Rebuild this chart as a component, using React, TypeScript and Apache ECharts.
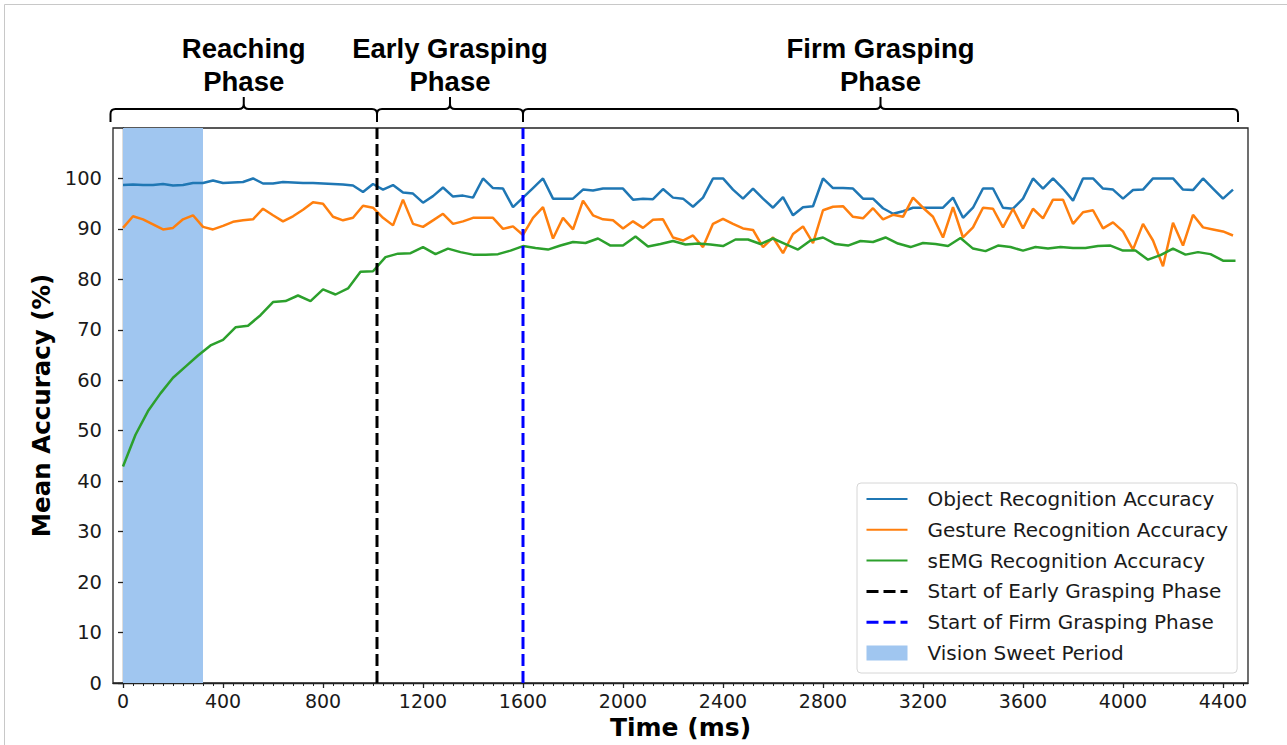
import React, { useEffect, useRef } from "react";
import * as echarts from "echarts";

// ---- data ----
const objectStepMs = 40;
const gestureStepMs = 40;
const semgStepMs = 50;

const objectAcc = [
  98.7, 98.8, 98.7, 98.7, 98.9, 98.6, 98.7, 99.1, 99.1, 99.6,
  99.1, 99.2, 99.3, 100.0, 99.0, 99.0, 99.3, 99.2, 99.1, 99.1,
  99.0, 98.9, 98.8, 98.6, 97.3, 98.9, 97.8, 98.7, 97.2, 97.0,
  95.2, 96.5, 98.2, 96.4, 96.6, 96.2, 100.0, 98.1, 98.0, 94.3,
  96.2, 98.1, 100.0, 96.0, 96.0, 96.0, 97.8, 97.6, 98.0, 98.0,
  98.0, 95.8, 96.0, 95.9, 97.9, 96.2, 96.0, 94.4, 96.2, 100.0,
  100.0, 97.8, 96.0, 98.0, 96.0, 94.2, 96.3, 92.7, 94.3, 94.5,
  100.0, 98.1, 98.1, 98.0, 96.0, 96.0, 94.1, 93.0, 93.5, 94.2,
  94.2, 94.2, 94.2, 96.2, 92.2, 94.2, 98.0, 98.0, 94.2, 94.0,
  96.0, 100.0, 98.0, 100.0, 98.0, 95.6, 100.0, 100.0, 98.0, 97.8,
  96.0, 97.7, 97.8, 100.0, 100.0, 100.0, 97.8, 97.7, 100.0, 98.0,
  96.0, 97.8,
];

const gestureAcc = [
  90.2, 92.5, 91.9, 90.9, 89.9, 90.2, 91.9, 92.7, 90.4, 89.9,
  90.6, 91.4, 91.7, 91.9, 94.0, 92.7, 91.5, 92.5, 93.8, 95.3,
  95.0, 92.4, 91.7, 92.2, 94.6, 94.2, 92.2, 90.7, 95.8, 91.0,
  90.4, 91.7, 93.0, 91.0, 91.5, 92.2, 92.2, 92.2, 90.0, 90.5,
  88.8, 92.2, 94.3, 88.1, 92.2, 89.9, 95.6, 92.7, 91.9, 91.7,
  90.1, 91.5, 90.2, 91.8, 91.9, 88.3, 87.7, 88.7, 86.4, 91.0,
  92.0, 91.0, 90.1, 89.8, 86.4, 88.3, 85.2, 89.0, 90.5, 87.2,
  93.7, 94.4, 94.5, 92.4, 92.1, 94.1, 91.9, 92.8, 92.4, 96.2,
  94.2, 92.4, 88.3, 94.3, 88.3, 90.3, 94.2, 94.0, 90.3, 94.0,
  90.1, 94.0, 92.1, 95.8, 95.8, 91.0, 93.3, 93.7, 90.1, 91.3,
  89.5, 85.9, 91.0, 87.7, 82.6, 91.2, 86.7, 92.8, 90.3, 89.9,
  89.5, 88.7,
];

const semgAcc = [
  42.9, 49.2, 53.9, 57.4, 60.5, 62.7, 64.9, 66.9, 68.0, 70.5,
  70.8, 72.9, 75.5, 75.7, 76.8, 75.7, 78.0, 77.0, 78.2, 81.5,
  81.6, 84.4, 85.1, 85.2, 86.4, 85.0, 86.1, 85.4, 84.9, 84.9,
  85.0, 85.7, 86.6, 86.2, 85.9, 86.7, 87.4, 87.2, 88.1, 86.7,
  86.7, 88.5, 86.5, 87.0, 87.6, 86.9, 87.1, 86.9, 86.6, 87.9,
  87.9, 87.0, 88.1, 87.0, 85.9, 87.7, 88.3, 87.0, 86.7, 87.6,
  87.4, 88.3, 87.1, 86.4, 87.2, 87.0, 86.6, 88.2, 86.1, 85.6,
  86.7, 86.4, 85.7, 86.4, 86.1, 86.4, 86.2, 86.2, 86.6, 86.7,
  85.7, 85.7, 83.9, 84.8, 86.1, 84.9, 85.4, 85.0, 83.7, 83.7,
];

const earlyGraspStart = 1016;
const firmGraspStart = 1600;
const sweetPeriod = [0, 320];

const xTickValues = [0, 400, 800, 1200, 1600, 2000, 2400, 2800, 3200, 3600, 4000, 4400];
const yTickValues = [0, 10, 20, 30, 40, 50, 60, 70, 80, 90, 100];
const minorTickStep = 40;

const seriesNames = [
  "Object Recognition Accuracy",
  "Gesture Recognition Accuracy",
  "sEMG Recognition Accuracy",
  "Start of Early Grasping Phase",
  "Start of Firm Grasping Phase",
  "Vision Sweet Period",
];

const phaseLabels = ["Reaching\nPhase", "Early Grasping\nPhase", "Firm Grasping\nPhase"];
const phaseBounds = [
  [-50, earlyGraspStart],
  [earlyGraspStart, firmGraspStart],
  [firmGraspStart, 4460],
];

// ---- layout ----
const X_MIN = -40;
const X_MAX = 4500;
const Y_MIN = 0;
const Y_MAX = 110;

const TICK_FONT = "DejaVu Sans";

echarts.graphic.registerShape(
  "brace",
  echarts.graphic.extendShape({
    shape: { x1: 0, x2: 100, y: 0, h: 13, tip: 12, r: 5 },
    buildPath(ctx: any, s: any) {
      const xc = (s.x1 + s.x2) / 2;
      ctx.moveTo(s.x1, s.y + s.h);
      ctx.lineTo(s.x1, s.y + s.r);
      ctx.quadraticCurveTo(s.x1, s.y, s.x1 + s.r, s.y);
      ctx.lineTo(xc - s.r, s.y);
      ctx.quadraticCurveTo(xc, s.y, xc, s.y - s.r);
      ctx.lineTo(xc, s.y - s.tip);
      ctx.moveTo(xc, s.y - s.r);
      ctx.quadraticCurveTo(xc, s.y, xc + s.r, s.y);
      ctx.lineTo(s.x2 - s.r, s.y);
      ctx.quadraticCurveTo(s.x2, s.y, s.x2, s.y + s.r);
      ctx.lineTo(s.x2, s.y + s.h);
    },
  }) as any
);

function toPairs(values: number[], step: number) {
  return values.map((v, i) => [i * step, v]);
}

function buildMinorTicks() {
  const out: number[] = [];
  for (let t = 0; t <= X_MAX; t += minorTickStep) out.push(t);
  return out;
}

export default function App() {
  const ref = useRef<HTMLDivElement>(null);

  useEffect(() => {
    const el = ref.current!;
    const chart = echarts.init(el, null, { renderer: "svg" });

    const lineBase = { type: "line", symbol: "none", showSymbol: false, silent: true, xAxisIndex: 0, yAxisIndex: 0 };
    const LW = 2.5;

    const option: any = {
      animation: false,
      backgroundColor: "#fff",
      grid: {
        left: 113,
        right: 39,
        top: 128,
        bottom: 62,
        show: true,
        borderColor: "#222",
        borderWidth: 1.3,
        backgroundColor: "transparent",
      },
      xAxis: [
        {
          type: "value",
          min: X_MIN,
          max: X_MAX,
          splitLine: { show: false },
          axisLine: { show: true, lineStyle: { color: "#222", width: 1.3 } },
          axisTick: { show: true, customValues: xTickValues, length: 5, lineStyle: { color: "#222", width: 1.3 } },
          axisLabel: {
            customValues: xTickValues,
            formatter: (v: number) => String(v),
            fontFamily: TICK_FONT,
            fontSize: 19,
            color: "#1a1a1a",
            margin: 8,
          },
          name: "Time (ms)",
          nameLocation: "middle",
          nameGap: 32,
          nameTextStyle: { fontFamily: TICK_FONT, fontWeight: "bold", fontSize: 25, color: "#000" },
        },
        {
          type: "value",
          min: X_MIN,
          max: X_MAX,
          position: "bottom",
          splitLine: { show: false },
          axisLine: { show: false },
          axisTick: { show: true, customValues: buildMinorTicks(), length: 3, lineStyle: { color: "#222", width: 1 } },
          axisLabel: { show: false },
        },
      ],
      yAxis: {
        type: "value",
        min: Y_MIN,
        max: Y_MAX,
        splitLine: { show: false },
        axisLine: { show: true, lineStyle: { color: "#222", width: 1.3 } },
        axisTick: { show: true, customValues: yTickValues, length: 5, lineStyle: { color: "#222", width: 1.3 } },
        axisLabel: {
          customValues: yTickValues,
          formatter: (v: number) => String(v),
          fontFamily: TICK_FONT,
          fontSize: 19.5,
          color: "#1a1a1a",
          margin: 11,
        },
        name: "Mean Accuracy (%)",
        nameLocation: "middle",
        nameGap: 41,
        nameRotate: 90,
        nameTextStyle: { fontFamily: TICK_FONT, fontWeight: "bold", fontSize: 24.5, color: "#000" },
      },
      legend: {
        orient: "vertical",
        left: 857,
        top: 483,
        data: seriesNames.map((n, i) => {
          if (i === 5) return { name: n, icon: "rect" };
          if (i >= 3) return { name: n, itemStyle: { opacity: 0 }, lineStyle: { width: 3 } };
          return { name: n, itemStyle: { opacity: 0 } };
        }),
        itemWidth: 41,
        itemHeight: 15,
        itemGap: 10.8,
        selectedMode: false,
        backgroundColor: "#fff",
        borderColor: "#d6d6d6",
        borderWidth: 1,
        borderRadius: 4,
        padding: [6, 9, 10, 8],
        textStyle: { fontFamily: TICK_FONT, fontSize: 20, color: "#1a1a1a", padding: [0, 0, 0, 15], lineHeight: 20 },
      },
      series: [
        {
          ...lineBase,
          name: seriesNames[5],
          data: [],
          itemStyle: { color: "#a0c6f0" },
          lineStyle: { width: 0 },
          z: 1,
          markArea: {
            silent: true,
            itemStyle: { color: "#a0c6f0", opacity: 1 },
            data: [[{ xAxis: sweetPeriod[0], yAxis: "min" }, { xAxis: sweetPeriod[1], yAxis: "max" }]],
          },
        },
        {
          ...lineBase,
          name: seriesNames[0],
          data: toPairs(objectAcc, objectStepMs),
          lineStyle: { color: "#1f77b4", width: LW },
          itemStyle: { color: "#1f77b4" },
          z: 3,
        },
        {
          ...lineBase,
          name: seriesNames[1],
          data: toPairs(gestureAcc, gestureStepMs),
          lineStyle: { color: "#ff7f0e", width: LW },
          itemStyle: { color: "#ff7f0e" },
          z: 3,
        },
        {
          ...lineBase,
          name: seriesNames[2],
          data: toPairs(semgAcc, semgStepMs),
          lineStyle: { color: "#2ca02c", width: LW },
          itemStyle: { color: "#2ca02c" },
          z: 3,
        },
        {
          ...lineBase,
          name: seriesNames[3],
          data: [[earlyGraspStart, Y_MIN], [earlyGraspStart, Y_MAX]],
          lineStyle: { color: "#000", width: 3, type: [12, 5] },
          itemStyle: { color: "#000" },
          z: 4,
        },
        {
          ...lineBase,
          name: seriesNames[4],
          data: [[firmGraspStart, Y_MIN], [firmGraspStart, Y_MAX]],
          lineStyle: { color: "#0000ff", width: 3, type: [12, 5] },
          itemStyle: { color: "#0000ff" },
          z: 4,
        },
      ],
    };

    chart.setOption(option);

    const graphics: any[] = [
      {
        type: "line",
        silent: true,
        shape: { x1: 4.5, y1: 4.5, x2: 4.5, y2: 745 },
        style: { stroke: "#c8c8c8", lineWidth: 1 },
      },
      {
        type: "line",
        silent: true,
        shape: { x1: 4.5, y1: 4.5, x2: 1287, y2: 4.5 },
        style: { stroke: "#c8c8c8", lineWidth: 1 },
      },
    ];
    phaseBounds.forEach((b, i) => {
      const x1 = chart.convertToPixel({ xAxisIndex: 0 }, b[0]) as number;
      const x2 = chart.convertToPixel({ xAxisIndex: 0 }, b[1]) as number;
      const xc = (x1 + x2) / 2;
      graphics.push({
        type: "brace",
        shape: { x1, x2, y: 109, h: 13, tip: 12, r: 5 },
        style: { stroke: "#000", lineWidth: 2, fill: "none" },
        silent: true,
      });
      graphics.push({
        type: "text",
        x: xc,
        y: 32,
        silent: true,
        style: {
          text: phaseLabels[i],
          fontFamily: "Liberation Sans",
          fontWeight: "bold",
          fontSize: 27.5,
          lineHeight: 33,
          align: "center",
          verticalAlign: "top",
          fill: "#000",
        },
      });
    });
    chart.setOption({ graphic: graphics });

    return () => chart.dispose();
  }, []);

  return (
    <div
      ref={ref}
      style={{ position: "fixed", left: 0, top: 0, width: 1287, height: 745, background: "#fff" }}
    />
  );
}
